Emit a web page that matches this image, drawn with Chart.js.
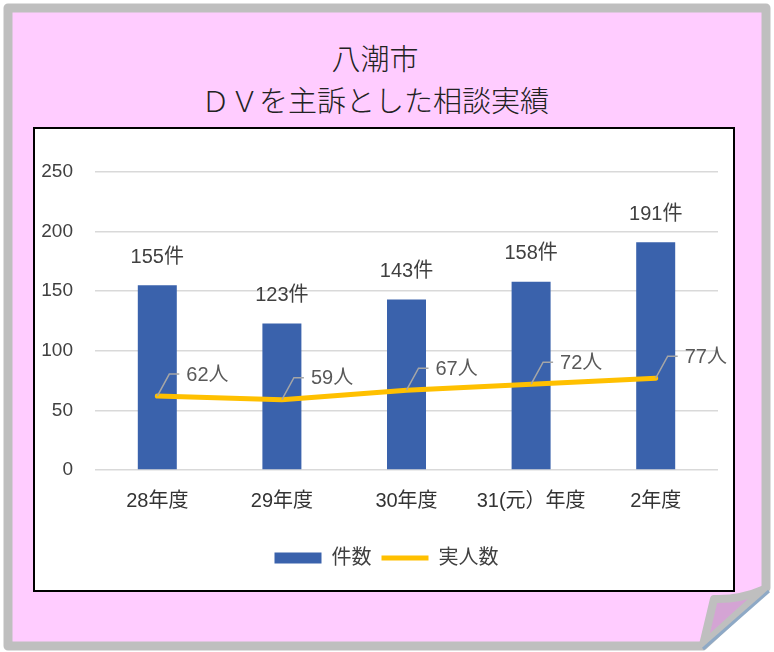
<!DOCTYPE html>
<html lang="ja">
<head>
    <meta charset="UTF-8">
    <title>八潮市 DVを主訴とした相談実績</title>
    <script src="https://cdn.jsdelivr.net/npm/chart.js"></script>
    <style>
        body { margin: 0; width: 774px; height: 652px; background: #fff; position: relative; overflow: hidden; }
        #card { position: absolute; left: 0; top: 0; }
        .title {
            position: absolute; left: 0; top: 36px; width: 750px;
            text-align: center; font-family: 'Noto Sans CJK JP', sans-serif;
            font-size: 29px; line-height: 42px; font-weight: 300; color: #222;
        }
        .chart-box {
            position: absolute; left: 33px; top: 127px; width: 698px; height: 461px;
            border: 2px solid #000; background: #fff;
        }
    </style>
</head>
<body>
    <!-- pink card with folded corner -->
    <svg id="card" width="774" height="652">
        <path d="M8,8 L766,8 L766,588 L703,646 L8,646 Z" fill="#FFCCFF" stroke="#BFBFBF" stroke-width="9" stroke-linejoin="round"/>
        <path d="M703,645 L714,599 Q740,600 765,589 Z" fill="#D4A4D4" stroke="#BFBFBF" stroke-width="8" stroke-linejoin="round"/>
        <line x1="703" y1="649" x2="769" y2="591" stroke="#8EA9C6" stroke-width="3"/>
    </svg>

    <div class="title">八潮市<br>ＤＶを主訴とした相談実績</div>

    <div class="chart-box">
        <canvas id="dvChart"></canvas>
    </div>

    <script>
        const categories = ['28年度', '29年度', '30年度', '31(元）年度', '2年度'];
        const caseCounts = [155, 123, 143, 158, 191];   // 件数
        const personCounts = [62, 59, 67, 72, 77];      // 実人数
        const yTicks = [0, 50, 100, 150, 200, 250];

        const FONT = "'Liberation Sans', 'Noto Sans CJK JP', sans-serif";

        // labels above bars and leader-line labels for the line
        const valueLabels = {
            id: 'valueLabels',
            afterLayout(chart) {
                // legend sits a bit right of the canvas centre in the original
                chart.legend.left += 10;
                chart.legend.right += 10;
            },
            afterDatasetsDraw(chart) {
                const ctx = chart.ctx;
                ctx.save();
                ctx.font = '20px ' + FONT;

                const bars = chart.getDatasetMeta(0).data;
                ctx.fillStyle = '#404040';
                ctx.textAlign = 'center';
                ctx.textBaseline = 'middle';
                bars.forEach((bar, i) => {
                    ctx.fillText(caseCounts[i] + '件', bar.x, bar.y - 28);
                });

                const pts = chart.getDatasetMeta(1).data;
                ctx.textAlign = 'left';
                pts.forEach((p, i) => {
                    ctx.strokeStyle = '#A6A6A6';
                    ctx.lineWidth = 1.5;
                    ctx.beginPath();
                    ctx.moveTo(p.x, p.y);
                    ctx.lineTo(p.x + 12, p.y - 22);
                    ctx.lineTo(p.x + 22, p.y - 22);
                    ctx.stroke();
                    ctx.fillStyle = '#595959';
                    ctx.fillText(personCounts[i] + '人', p.x + 29, p.y - 21);
                });
                ctx.restore();
            }
        };

        const ctx = document.getElementById('dvChart').getContext('2d');
        new Chart(ctx, {
            data: {
                labels: categories,
                datasets: [{
                    type: 'bar',
                    label: '件数',
                    data: caseCounts,
                    backgroundColor: '#3A62AC',
                    borderWidth: 0,
                    barPercentage: 0.313,
                    categoryPercentage: 1,
                    order: 1
                }, {
                    type: 'line',
                    label: '実人数',
                    data: personCounts,
                    borderColor: '#FFC000',
                    backgroundColor: '#FFC000',
                    borderWidth: 5,
                    borderCapStyle: 'round',
                    pointRadius: 0,
                    tension: 0,
                    order: 0
                }]
            },
            options: {
                responsive: true,
                maintainAspectRatio: false,
                animation: false,
                layout: { padding: { top: 43, right: 15, left: 0, bottom: 12 } },
                plugins: {
                    tooltip: { enabled: false },
                    legend: {
                        position: 'bottom',
                        labels: {
                            usePointStyle: true,
                            pointStyleWidth: 47,
                            boxHeight: 11,
                            padding: 10,
                            color: '#404040',
                            font: { family: FONT, size: 20 },
                            sort: (a, b) => a.datasetIndex - b.datasetIndex,
                            generateLabels(chart) {
                                const items = Chart.defaults.plugins.legend.labels.generateLabels(chart);
                                items.forEach(it => {
                                    if (it.datasetIndex === 0) {
                                        it.pointStyle = 'rect';
                                        it.lineWidth = 0;
                                    } else {
                                        it.pointStyle = 'line';
                                        it.lineWidth = 5;
                                    }
                                });
                                return items;
                            }
                        }
                    }
                },
                scales: {
                    x: {
                        grid: { display: false },
                        border: { display: false },
                        ticks: {
                            color: '#333333',
                            padding: 11,
                            maxRotation: 0,
                            autoSkip: false,
                            font: { family: FONT, size: 20 }
                        },
                        afterFit(scale) { scale.height = 68; }
                    },
                    y: {
                        min: yTicks[0],
                        max: yTicks[yTicks.length - 1],
                        border: { display: false },
                        grid: { color: '#D9D9D9', lineWidth: 1.5, drawTicks: false },
                        afterBuildTicks(scale) { scale.ticks = yTicks.map(v => ({ value: v })); },
                        ticks: {
                            color: '#404040',
                            padding: 22,
                            font: { family: FONT, size: 19 }
                        },
                        afterFit(scale) { scale.width = 60; }
                    }
                }
            },
            plugins: [valueLabels]
        });
    </script>
</body>
</html>
